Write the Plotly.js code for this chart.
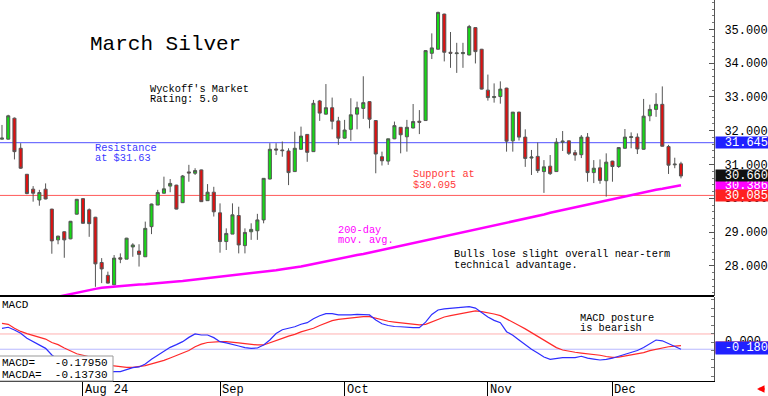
<!DOCTYPE html>
<html><head><meta charset="utf-8">
<script src="https://cdn.plot.ly/plotly-3.0.1.min.js"></script>
<style>html,body{margin:0;padding:0;background:#fff;}#chart{width:768px;height:396px;}</style>
</head><body><div id="chart"></div>
<script>
const dates = [
"2024-07-15","2024-07-16","2024-07-17","2024-07-18","2024-07-19","2024-07-22","2024-07-23","2024-07-24","2024-07-25","2024-07-26","2024-07-29","2024-07-30","2024-07-31",
"2024-08-01","2024-08-02","2024-08-05","2024-08-06","2024-08-07","2024-08-08","2024-08-09","2024-08-12","2024-08-13","2024-08-14","2024-08-15","2024-08-16","2024-08-19","2024-08-20","2024-08-21","2024-08-22","2024-08-23","2024-08-26","2024-08-27","2024-08-28","2024-08-29","2024-08-30",
"2024-09-03","2024-09-04","2024-09-05","2024-09-06","2024-09-09","2024-09-10","2024-09-11","2024-09-12","2024-09-13","2024-09-16","2024-09-17","2024-09-18","2024-09-19","2024-09-20","2024-09-23","2024-09-24","2024-09-25","2024-09-26","2024-09-27","2024-09-30",
"2024-10-01","2024-10-02","2024-10-03","2024-10-04","2024-10-07","2024-10-08","2024-10-09","2024-10-10","2024-10-11","2024-10-14","2024-10-15","2024-10-16","2024-10-17","2024-10-18","2024-10-21","2024-10-22","2024-10-23","2024-10-24","2024-10-25","2024-10-28","2024-10-29","2024-10-30","2024-10-31",
"2024-11-01","2024-11-04","2024-11-05","2024-11-06","2024-11-07","2024-11-08","2024-11-11","2024-11-12","2024-11-13","2024-11-14","2024-11-15","2024-11-18","2024-11-19","2024-11-20","2024-11-21","2024-11-22","2024-11-25","2024-11-26","2024-11-27","2024-11-29",
"2024-12-02","2024-12-03","2024-12-04","2024-12-05","2024-12-06","2024-12-09","2024-12-10","2024-12-11","2024-12-12","2024-12-13","2024-12-16","2024-12-17"];

const open = [31.75,31.75,32.37,31.48,30.71,30.27,29.95,30.27,29.68,28.77,29.01,28.80,29.53,
29.99,29.66,29.44,28.10,27.72,27.44,28.24,28.20,28.56,28.44,28.27,29.16,29.80,30.15,30.36,30.39,29.87,30.78,30.74,30.84,29.93,30.18,
29.57,28.72,28.94,29.49,28.60,29.01,29.04,29.36,30.57,31.46,31.43,31.40,30.79,31.45,31.89,31.38,32.88,32.49,32.68,32.29,
31.78,32.04,32.49,32.66,32.86,32.30,31.23,31.10,31.76,32.10,31.82,32.08,32.28,32.30,34.29,34.41,35.45,34.32,34.28,34.28,34.24,35.05,34.41,
33.20,32.98,33.01,33.26,31.70,32.55,31.81,31.19,31.24,30.79,30.95,30.79,31.66,31.70,31.35,31.29,31.81,30.76,30.90,30.52,
31.10,30.94,31.48,31.80,31.81,31.45,32.44,32.63,32.78,31.53,30.99,31.02];
const high = [32.17,32.47,32.39,31.63,30.72,30.36,30.25,30.44,29.69,28.89,29.02,29.33,29.98,
30.00,29.70,29.45,28.23,27.83,28.32,28.37,28.83,28.67,28.64,29.31,29.84,30.25,30.64,30.57,30.40,30.69,30.99,30.89,30.85,30.42,30.34,
29.85,29.11,29.85,29.75,29.11,29.26,29.54,30.60,31.63,31.63,31.68,31.48,31.97,32.12,31.90,32.91,32.91,33.38,32.98,32.41,
32.32,32.96,32.86,33.61,32.87,32.31,31.38,31.76,32.27,32.11,32.32,32.79,32.61,34.38,34.88,35.52,35.46,34.92,34.60,34.60,35.13,35.06,34.42,
33.66,33.40,33.46,33.27,32.55,32.56,32.04,31.43,31.65,31.13,31.28,31.78,31.99,31.71,31.43,31.87,31.93,31.13,31.15,31.33,
31.11,31.51,32.05,31.95,31.92,32.94,32.77,33.11,33.31,31.58,31.20,31.08];
const low = [31.74,31.74,31.15,30.87,30.12,29.90,29.78,29.97,28.36,28.64,28.24,28.79,29.52,
29.25,28.86,27.38,27.49,27.48,27.43,28.08,28.20,28.27,27.98,28.27,28.94,29.80,30.14,30.18,29.67,29.86,30.49,30.69,29.89,29.92,29.46,
28.39,28.47,28.94,28.37,28.37,28.77,28.77,29.26,30.56,31.28,31.23,30.39,30.78,31.44,31.08,31.37,32.29,32.48,32.04,31.58,
31.77,31.70,32.04,32.35,32.07,30.74,30.97,30.99,31.75,31.33,31.38,32.07,31.90,32.29,34.12,34.40,34.05,33.86,33.71,33.86,34.23,33.99,33.22,
32.89,32.83,32.80,31.38,31.38,31.71,30.93,30.69,30.75,30.16,30.69,30.78,31.40,31.28,31.11,31.19,30.49,30.45,30.43,30.05,
30.49,30.90,31.47,31.48,31.31,31.44,32.28,32.41,31.53,30.72,30.89,30.59];
const close = [31.78,32.44,31.38,30.89,30.14,30.15,30.17,29.98,28.74,28.88,28.77,29.32,29.97,
29.26,29.25,28.06,27.91,27.49,28.23,28.20,28.82,28.62,28.34,29.11,29.83,30.17,30.28,30.44,29.68,30.66,30.75,30.82,29.90,30.18,29.60,
28.72,28.96,29.51,28.62,28.99,29.08,29.36,30.59,31.45,31.43,31.41,30.76,31.48,31.84,31.36,32.81,32.52,32.68,32.28,31.78,
32.02,32.47,32.68,32.83,32.34,31.31,31.11,31.76,32.15,31.88,32.10,32.27,32.25,34.37,34.45,35.50,34.32,34.29,34.30,34.31,35.08,34.34,33.23,
32.98,33.01,33.23,31.69,32.55,31.81,31.18,31.22,30.82,30.93,30.73,31.66,31.69,31.33,31.28,31.81,30.76,30.89,30.53,31.07,
30.94,31.50,31.81,31.82,31.46,32.43,32.63,32.78,31.54,30.98,31.01,30.66];

const ma200 = [26.74,26.78,26.82,26.86,26.90,26.94,26.98,27.02,27.06,27.10,27.14,27.18,27.22,
27.26,27.29,27.32,27.35,27.37,27.39,27.40,27.42,27.43,27.45,27.46,27.48,27.49,27.51,27.52,27.54,27.55,27.57,27.59,27.61,27.63,27.65,
27.68,27.70,27.72,27.74,27.76,27.78,27.81,27.83,27.85,27.87,27.90,27.92,27.95,27.98,28.02,28.06,28.10,28.14,28.17,28.21,
28.25,28.28,28.32,28.35,28.39,28.42,28.46,28.50,28.55,28.59,28.63,28.67,28.71,28.75,28.79,28.83,28.87,28.91,28.95,28.99,29.03,29.07,29.11,
29.15,29.20,29.24,29.28,29.32,29.36,29.40,29.44,29.48,29.52,29.57,29.61,29.66,29.70,29.74,29.78,29.83,29.87,29.91,29.95,
29.99,30.03,30.07,30.11,30.14,30.18,30.21,30.25,30.28,30.32,30.35,30.386];

const macd = [0.067,0.079,0.047,0.008,-0.051,-0.090,-0.122,-0.169,-0.247,-0.300,-0.340,-0.370,-0.390,
-0.410,-0.430,-0.450,-0.460,-0.450,-0.443,-0.443,-0.424,-0.396,-0.388,-0.353,-0.298,-0.251,-0.208,-0.157,-0.125,-0.090,-0.040,0.000,-0.012,-0.012,-0.043,
-0.090,-0.105,-0.120,-0.141,-0.160,-0.169,-0.165,-0.129,-0.071,0.005,0.050,0.067,0.085,0.115,0.133,0.180,0.215,0.240,0.240,0.225,
0.222,0.224,0.230,0.230,0.224,0.165,0.120,0.100,0.088,0.085,0.076,0.075,0.075,0.140,0.230,0.282,0.295,0.302,0.302,0.310,0.322,0.305,0.250,
0.200,0.160,0.133,0.027,-0.015,-0.070,-0.130,-0.180,-0.225,-0.270,-0.298,-0.285,-0.278,-0.278,-0.278,-0.262,-0.284,-0.295,-0.306,-0.298,
-0.285,-0.262,-0.240,-0.215,-0.195,-0.160,-0.115,-0.071,-0.080,-0.110,-0.140,-0.1795];
const macdAvg = [0.125,0.114,0.067,0.030,0.005,-0.015,-0.038,-0.060,-0.100,-0.125,-0.165,-0.200,-0.232,
-0.250,-0.268,-0.300,-0.330,-0.353,-0.376,-0.388,-0.392,-0.392,-0.384,-0.372,-0.352,-0.335,-0.310,-0.282,-0.250,-0.225,-0.195,-0.150,-0.120,-0.100,-0.092,
-0.090,-0.090,-0.095,-0.105,-0.114,-0.125,-0.129,-0.129,-0.100,-0.075,-0.051,-0.025,-0.005,0.025,0.045,0.067,0.100,0.130,0.157,0.172,
0.182,0.192,0.196,0.204,0.204,0.185,0.165,0.150,0.140,0.130,0.122,0.112,0.106,0.114,0.140,0.175,0.200,0.216,0.232,0.248,0.262,0.271,0.262,
0.250,0.235,0.216,0.180,0.140,0.100,0.060,0.015,-0.030,-0.080,-0.120,-0.160,-0.188,-0.205,-0.215,-0.225,-0.233,-0.240,-0.250,-0.265,
-0.275,-0.272,-0.259,-0.248,-0.235,-0.220,-0.195,-0.180,-0.160,-0.150,-0.143,-0.1373];

const monthStarts = ["2024-08-01","2024-09-03","2024-10-01","2024-11-01","2024-12-02"];
const monthLabels = ["Aug 24","Sep","Oct","Nov","Dec"];
const resistance = 31.645;
const support = 30.085;
const macdBoxLabel = "-0.180";
const macdReadout = ["MACD=   -0.17950", "MACDA=  -0.13730"];

const W = 714, H = 381;
const FONT = 'Liberation Mono, DejaVu Sans Mono, monospace';
const last = close.length - 1;
const px = x => x / W, py = y => 1 - y / H;

function T(x, y, text, color, size) {
  return {xref:'paper', yref:'paper', x:px(x), y:py(y), xanchor:'left', yanchor:'middle',
    text:text, showarrow:false, font:{family:FONT, size:size||10.3, color:color||'#000'}};
}
function box(yref, val, text, bg) {
  return {xref:'paper', x:px(715), xanchor:'left', yref:yref, y:val, yanchor:'middle',
    text:text, showarrow:false, align:'right', width:52, height:11, borderpad:0,
    bgcolor:bg, font:{family:FONT, size:12, color:'#fff'}};
}

const traces = [
  {type:'candlestick', x:dates, open:open, high:high, low:low, close:close, xaxis:'x', yaxis:'y',
   increasing:{fillcolor:'#16d916', line:{color:'#555', width:1}},
   decreasing:{fillcolor:'#e01010', line:{color:'#555', width:1}},
   whiskerwidth:0, hoverinfo:'none', showlegend:false},
  {type:'scatter', mode:'lines', x:dates, y:ma200, xaxis:'x', yaxis:'y',
   line:{color:'#ff00ff', width:2.5}, hoverinfo:'none', showlegend:false},
  {type:'scatter', mode:'lines', x:dates, y:macdAvg, xaxis:'x', yaxis:'y2',
   line:{color:'#ff2a2a', width:1.2}, hoverinfo:'none', showlegend:false},
  {type:'scatter', mode:'lines', x:dates, y:macd, xaxis:'x', yaxis:'y2',
   line:{color:'#2e2eff', width:1.2}, hoverinfo:'none', showlegend:false}
];

const annotations = [
  T(88, 44.5, 'March Silver', '#000', 21),
  T(148, 89.3, "Wyckoff's Market"), T(148, 99, 'Rating: 5.0'),
  T(93, 148.3, 'Resistance', '#3a3aff'), T(93, 158.3, 'at $31.63', '#3a3aff'),
  T(411, 174.3, 'Support at', '#ff3a3a'), T(411, 184.6, '$30.095', '#ff3a3a'),
  T(335.5, 229.5, '200-day', '#ff00ff'), T(335.5, 240, 'mov. avg.', '#ff00ff'),
  T(452, 254, 'Bulls lose slight overall near-term'), T(452, 265, 'technical advantage.'),
  T(578, 317.7, 'MACD posture'), T(578, 327.7, 'is bearish'),
  T(0, 305, 'MACD', '#000', 11),
  T(0, 362.5, macdReadout[0], '#000', 11), T(0, 374.5, macdReadout[1], '#000', 11),
  {xref:'paper', x:px(723), xanchor:'left', yref:'y2', y:0, yanchor:'middle', yshift:-8,
   text:'0.000', showarrow:false, font:{family:FONT, size:12, color:'#000'}},
  box('y', ma200[last], ma200[last].toFixed(3), '#ff00ff'),
  box('y', close[last], close[last].toFixed(3), '#111'),
  box('y', support, support.toFixed(3), '#ff2020'),
  box('y', resistance, resistance.toFixed(3), '#2020ff'),
  Object.assign(box('y2', macdAvg[last], '', '#ff2020'), {yshift:-2}),
  Object.assign(box('y2', macd[last], macdBoxLabel, '#2020ff'), {height:12, yshift:1}),
  {xref:'paper', yref:'paper', x:px(757), y:py(389), text:'', showarrow:true,
   ax:9, ay:0, arrowhead:2, arrowsize:0.6, arrowwidth:2.5, arrowcolor:'#ff0000'}
];
monthStarts.forEach((d, i) => {
  annotations.push({xref:'x', x:dates.indexOf(d), xanchor:'left', xshift:0, yref:'paper', y:py(389.5),
    yanchor:'middle', text:monthLabels[i], showarrow:false,
    font:{family:FONT, size:12, color:'#000'}});
});

const shapes = [
  {type:'line', xref:'paper', x0:0, x1:1, yref:'y', y0:resistance, y1:resistance, line:{color:'#5050ff', width:1}, layer:'below'},
  {type:'line', xref:'paper', x0:0, x1:1, yref:'y', y0:support, y1:support, line:{color:'#ff5a5a', width:1}, layer:'below'},
  {type:'line', xref:'paper', x0:0, x1:1, yref:'y2', y0:0, y1:0, line:{color:'#ffb0b0', width:1}, layer:'below'},
  {type:'line', xref:'paper', x0:0, x1:1, yref:'y2', y0:macd[last], y1:macd[last], line:{color:'#b8b8ff', width:1}, layer:'below'},
  {type:'line', xref:'paper', x0:0, x1:1, yref:'paper', y0:py(296), y1:py(296), line:{color:'#000', width:2}},
  {type:'rect', xref:'paper', x0:-0.01, x1:px(113), yref:'paper', y0:py(381), y1:py(356),
   fillcolor:'#fff', line:{color:'#999', width:1}, layer:'above'}
];

const layout = {
  width:768, height:396, margin:{l:0, r:54, t:0, b:15, pad:0},
  paper_bgcolor:'#fff', plot_bgcolor:'#fff', showlegend:false, dragmode:false,
  xaxis:{type:'category', categoryorder:'array', categoryarray:dates, range:[-0.32, 114.3],
    anchor:'y2', showgrid:false, zeroline:false, showline:true, linecolor:'#000', linewidth:1,
    tickmode:'array', tickvals:monthStarts, ticks:'outside', ticklen:15, tickcolor:'#000', tickwidth:1,
    showticklabels:false, rangeslider:{visible:false}, fixedrange:true},
  yaxis:{domain:[py(296), 1], range:[27.109, 35.867], side:'right', anchor:'x',
    showgrid:false, zeroline:false, showline:true, linecolor:'#555', linewidth:1,
    ticks:'inside', ticklen:5, tickcolor:'#555', tick0:0, dtick:1, tickformat:'.3f',
    tickfont:{family:FONT, size:12, color:'#000'}, ticklabelstandoff:7,
    minor:{dtick:0.2, ticks:'inside', ticklen:2, tickcolor:'#777'}, fixedrange:true},
  yaxis2:{domain:[0, py(297)], range:[-0.553, 0.435], side:'right', anchor:'x',
    showgrid:false, zeroline:false, showline:true, linecolor:'#555', linewidth:1,
    ticks:'inside', ticklen:3, tickcolor:'#777', dtick:0.1, showticklabels:false, fixedrange:true},
  shapes:shapes, annotations:annotations
};

Plotly.newPlot('chart', traces, layout, {staticPlot:true, displayModeBar:false});
</script></body></html>
